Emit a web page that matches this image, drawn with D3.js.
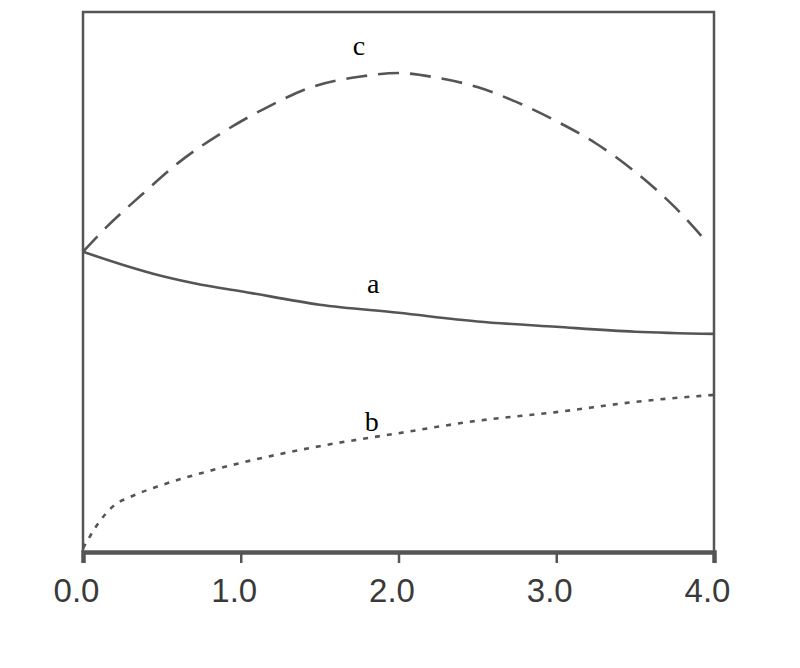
<!DOCTYPE html>
<html>
<head>
<meta charset="utf-8">
<script src="https://cdn.jsdelivr.net/npm/d3@7"></script>
<style>
  body { margin: 0; background: #fff; }
  svg { display: block; }
</style>
</head>
<body>
<div id="chart"></div>
<script>
// curve values (y has no scale, arbitrary units 0..10)
const xA = [0, 0.25, 0.5, 0.75, 1.0, 1.5, 2.0, 2.5, 3.0, 3.5, 4.0];
const yA = [5.56, 5.32, 5.11, 4.95, 4.83, 4.58, 4.43, 4.27, 4.17, 4.08, 4.04];

const xB = [0, 0.02, 0.08, 0.2, 0.3, 0.5, 0.75, 1.0, 1.5, 2.0, 2.5, 3.0, 3.5, 4.0];
const yB = [0.07, 0.17, 0.46, 0.87, 1.02, 1.24, 1.46, 1.65, 1.96, 2.2, 2.43, 2.59, 2.78, 2.91];

const xC = [0, 0.15, 0.37, 0.61, 0.89, 1.17, 1.45, 1.75, 2.0, 2.25, 2.5, 2.75, 3.0, 3.25, 3.5, 3.75, 3.96];
const yC = [5.56, 6.02, 6.61, 7.22, 7.78, 8.24, 8.61, 8.8, 8.87, 8.78, 8.61, 8.33, 7.98, 7.57, 7.04, 6.39, 5.72];

const xTicks = [0, 1, 2, 3, 4];
const curveNames = ['a', 'b', 'c'];
const labelX = [1.84, 1.83, 1.75];
const labelY = [4.8, 2.25, 9.2];

const width = 800, height = 668;
const margin = { top: 12, right: 86, bottom: 116, left: 83 };

const svg = d3.select('#chart').append('svg')
  .attr('width', width)
  .attr('height', height);

const x = d3.scaleLinear()
  .domain([0, 4])
  .range([margin.left, width - margin.right]);

const y = d3.scaleLinear()
  .domain([0, 10])
  .range([height - margin.bottom, margin.top]);

const grey = '#555';

// frame (left, top, right)
svg.append('path')
  .attr('d', `M${x(0)},${y(0)}V${y(10)}H${x(4)}V${y(0)}`)
  .attr('fill', 'none')
  .attr('stroke', grey)
  .attr('stroke-width', 2.5);

// bottom axis
const xAxis = d3.axisBottom(x)
  .tickValues(xTicks)
  .tickFormat(d3.format('.1f'))
  .tickSize(11)
  .tickPadding(16);

const gx = svg.append('g')
  .attr('transform', `translate(0,${y(0)})`)
  .call(xAxis);

gx.select('.domain')
  .attr('stroke', grey)
  .attr('stroke-width', 4.5);

gx.selectAll('.tick line')
  .attr('stroke', grey)
  .attr('stroke-width', 2.5);

gx.selectAll('.tick text')
  .attr('fill', '#3a3a3a')
  .attr('dx', -7)
  .style('font-family', '"Liberation Sans", Arial, sans-serif')
  .style('font-size', '33px');

const line = d3.line()
  .x(d => x(d[0]))
  .y(d => y(d[1]))
  .curve(d3.curveMonotoneX);

const series = [
  { pts: d3.zip(xA, yA), dash: null },
  { pts: d3.zip(xB, yB), dash: '5,7' },
  { pts: d3.zip(xC, yC), dash: '21,11' }
];

series.forEach(s => {
  svg.append('path')
    .datum(s.pts)
    .attr('d', line)
    .attr('fill', 'none')
    .attr('stroke', grey)
    .attr('stroke-width', 2.6)
    .attr('stroke-dasharray', s.dash);
});

// curve letters
svg.selectAll('.curve-label')
  .data(curveNames)
  .enter()
  .append('text')
  .attr('class', 'curve-label')
  .attr('x', (d, i) => x(labelX[i]))
  .attr('y', (d, i) => y(labelY[i]))
  .attr('text-anchor', 'middle')
  .style('font-family', '"Liberation Serif", "Times New Roman", serif')
  .style('font-size', '28px')
  .text(d => d);
</script>
</body>
</html>
